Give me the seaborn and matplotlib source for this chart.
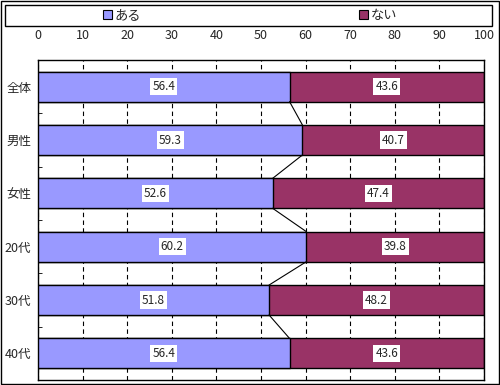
import matplotlib
matplotlib.use('Agg')
import matplotlib.pyplot as plt
import matplotlib.patches as mpatches
import numpy as np
import pandas as pd
import seaborn as sns

categories = ['全体', '男性', '女性', '20代', '30代', '40代']
aru = [56.4, 59.3, 52.6, 60.2, 51.8, 56.4]
nai = [43.6, 40.7, 47.4, 39.8, 48.2, 43.6]
series_names = ['ある', 'ない']
colors = ['#9999FF', '#993366']

sns.set_style('white')
plt.rcParams['font.family'] = ['Noto Sans CJK JP', 'DejaVu Sans']

df = pd.DataFrame({'cat': categories, 'aru': aru, 'nai': nai})
df['total'] = df['aru'] + df['nai']

fig = plt.figure(figsize=(5, 3.85), dpi=100)
ax = fig.add_axes([38 / 500, 1 - 380 / 385, 446 / 500, 320 / 385])

bar_w = 0.56
# ない drawn full length, ある on top of it
sns.barplot(data=df, x='total', y='cat', orient='h', color=colors[1], width=bar_w,
            edgecolor='black', linewidth=1, saturation=1, ax=ax, zorder=2)
sns.barplot(data=df, x='aru', y='cat', orient='h', color=colors[0], width=bar_w,
            edgecolor='black', linewidth=1, saturation=1, ax=ax, zorder=3)

# series lines between bars
for i in range(len(categories) - 1):
    ax.plot([aru[i], aru[i + 1]], [i + bar_w / 2, i + 1 - bar_w / 2],
            color='black', lw=0.8, zorder=4)

# value labels
for i in range(len(categories)):
    ax.text(aru[i] / 2, i, f'{aru[i]:.1f}', ha='center', va='center', fontsize=8.5,
            zorder=5, bbox=dict(facecolor='white', edgecolor='none', pad=1.5))
    ax.text(aru[i] + nai[i] / 2, i, f'{nai[i]:.1f}', ha='center', va='center', fontsize=8.5,
            zorder=5, bbox=dict(facecolor='white', edgecolor='none', pad=1.5))

ax.set_xlim(0, 100)
ax.set_ylim(len(categories) - 0.5, -0.5)
ax.set_xticks(np.arange(0, 101, 10))
ax.xaxis.tick_top()
ax.tick_params(axis='x', length=0, pad=13, labelsize=9)
ax.tick_params(axis='y', length=0, pad=5, labelsize=9)
ax.set_yticks(np.arange(0.5, len(categories) - 0.5, 1), minor=True)
ax.tick_params(axis='y', which='minor', direction='in', length=3, color='black', left=True)
ax.set_xlabel('')
ax.set_ylabel('')
ax.set_axisbelow(True)
ax.grid(axis='x', color='black', linestyle=(0, (4, 3)), linewidth=0.8)
for s in ax.spines.values():
    s.set_visible(True)
    s.set_color('black')
    s.set_linewidth(1)

# legend box
fig.patches.append(mpatches.Rectangle((5 / 500, 1 - 26 / 385), 487 / 500, 21 / 385,
                                      transform=fig.transFigure, facecolor='white',
                                      edgecolor='black', linewidth=1))
handles = [mpatches.Patch(facecolor=c, edgecolor='black', linewidth=0.8) for c in colors]
fig.legend(handles, series_names, loc='center', bbox_to_anchor=(250 / 500, 1 - 15.5 / 385),
           ncol=2, frameon=False, fontsize=9.5, handlelength=0.7, handleheight=0.7,
           handletextpad=0.2, columnspacing=16.5, borderpad=0)

# outer border
fig.patches.append(mpatches.Rectangle((0.001, 0.002), 0.997, 0.996, transform=fig.transFigure,
                                      facecolor='none', edgecolor='black', linewidth=1))

fig.savefig('out.png', dpi=100)
